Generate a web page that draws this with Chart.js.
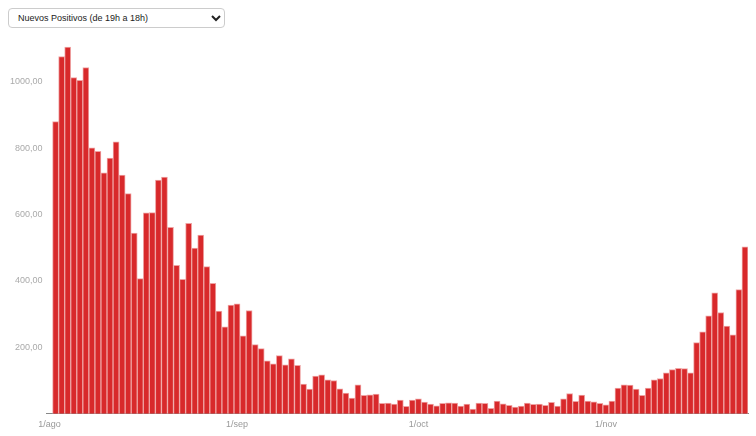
<!DOCTYPE html>
<html>
<head>
<meta charset="utf-8">
<script src="https://cdn.jsdelivr.net/npm/chart.js@4/dist/chart.umd.min.js"></script>
<style>
  html, body { margin: 0; padding: 0; background: #fff; }
  body { width: 756px; height: 436px; position: relative; overflow: hidden; font-family: "Liberation Sans", Arial, sans-serif; }
  #serie {
    position: absolute; left: 8px; top: 8px; width: 217px; height: 20px;
    font-family: "Liberation Sans", Arial, sans-serif; font-size: 9px; color: #222;
    border: 1px solid #ccc; border-radius: 4px; background: #fff; padding: 0 5px;
  }
  #wrap { position: absolute; left: 0; top: 30px; width: 756px; height: 406px; }
</style>
</head>
<body>
<select id="serie">
  <option>Nuevos Positivos (de 19h a 18h)</option>
</select>
<div id="wrap"><canvas id="chart"></canvas></div>
<script>
// daily values from 2/ago to 24/nov (1/ago has no bar)
const startDate = new Date(2020, 7, 1);
const monthNames = ["ene","feb","mar","abr","may","jun","jul","ago","sep","oct","nov","dic"];
const tickLabels = ["1/ago", "1/sep", "1/oct", "1/nov"];

const positivos = [
  null,
  880, 1076, 1105, 1013, 1005, 1043, 801, 791, 726, 770, 819, 719,
  663, 544, 407, 605, 606, 704, 713, 562, 447, 405, 574, 499,
  538, 443, 393, 309, 262, 327, 331, 235, 311, 208, 196, 159, 150,
  175, 147, 165, 146, 89, 74, 113, 117, 102, 100,
  75, 62, 47, 87, 55, 57, 59, 31, 32, 29,
  41, 22, 41, 45, 35, 29, 24, 31, 33, 32,
  23, 29, 14, 32, 31, 16, 38, 30, 25, 20,
  23, 32, 28, 29, 25, 34, 23, 45, 61, 37,
  56, 38, 36, 31, 27, 38, 77, 87, 86, 74,
  55, 77, 102, 106, 123, 133, 137, 136, 123, 214,
  247, 295, 364, 305, 264, 238, 374, 503
];

// day labels d/mes
const days = positivos.map((v, i) => {
  const d = new Date(startDate.getTime());
  d.setDate(d.getDate() + i);
  return d.getDate() + "/" + monthNames[d.getMonth()];
});

const ctx = document.getElementById("chart").getContext("2d");
new Chart(ctx, {
  type: "bar",
  data: {
    labels: days,
    datasets: [{
      label: "Nuevos Positivos",
      data: positivos,
      backgroundColor: "#d8292b",
      borderColor: "#efa3a3",
      borderWidth: 1,
      borderSkipped: "bottom",
      barPercentage: 1,
      categoryPercentage: 1
    }]
  },
  options: {
    responsive: true,
    maintainAspectRatio: false,
    animation: false,
    layout: { padding: { left: 6, right: 8, top: 6, bottom: 1.5 } },
    plugins: { legend: { display: false }, tooltip: { enabled: false } },
    scales: {
      x: {
        grid: { display: false, drawTicks: false },
        border: { display: true, color: "#888", width: 1 },
        ticks: {
          autoSkip: false,
          maxRotation: 0,
          padding: 5,
          color: "#999",
          font: { family: "'Liberation Sans', Arial, sans-serif", size: 9 },
          callback: (v, i) => tickLabels.includes(days[i]) ? days[i] : ""
        }
      },
      y: {
        min: 0,
        max: 1128,
        grid: { display: false, drawTicks: false },
        border: { display: false },
        ticks: {
          stepSize: 200,
          includeBounds: false,
          padding: 4,
          color: "#aaa",
          font: { family: "'Liberation Sans', Arial, sans-serif", size: 9 },
          callback: v => v === 0 ? "" : v.toFixed(2).replace(".", ",")
        }
      }
    }
  }
});
</script>
</body>
</html>
